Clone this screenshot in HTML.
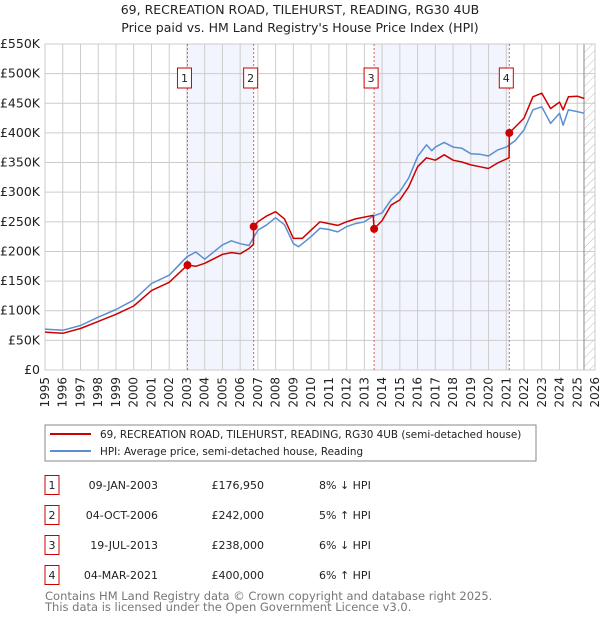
<!DOCTYPE html>
<html><head><meta charset="utf-8"><style>
body{margin:0;background:#fff;font-family:"Liberation Sans","DejaVu Sans",sans-serif;}
svg text{font-family:"DejaVu Sans","Liberation Sans",sans-serif;}
</style></head><body>
<svg id="c" width="600" height="620" xmlns="http://www.w3.org/2000/svg">
<defs><pattern id="hatch" width="6" height="6" patternUnits="userSpaceOnUse" patternTransform="rotate(45)"><line x1="0" y1="0" x2="0" y2="6" stroke="#bbb" stroke-width="1"/></pattern></defs>
<text x="300" y="14" text-anchor="middle" font-size="12.5" fill="#222">69, RECREATION ROAD, TILEHURST, READING, RG30 4UB</text>
<text x="300" y="32" text-anchor="middle" font-size="12.5" fill="#222">Price paid vs. HM Land Registry's House Price Index (HPI)</text>
<g id="plot"></g>
<g>
<rect x="45" y="425" width="491" height="36" fill="#fff" stroke="#888"/>
<line x1="50" y1="434" x2="91" y2="434" stroke="#cc0000" stroke-width="2"/>
<text x="100" y="438" font-size="10.4" fill="#222">69, RECREATION ROAD, TILEHURST, READING, RG30 4UB (semi-detached house)</text>
<line x1="50" y1="451" x2="91" y2="451" stroke="#5b8fd0" stroke-width="2"/>
<text x="100" y="455" font-size="10.4" fill="#222">HPI: Average price, semi-detached house, Reading</text>
</g>
<g id="table"></g>
<text x="45" y="600" font-size="11.5" fill="#777">Contains HM Land Registry data © Crown copyright and database right 2025.</text>
<text x="45" y="611" font-size="11.5" fill="#777">This data is licensed under the Open Government Licence v3.0.</text>
</svg>
<script>
const hpiYears=[1995,1996,1997,1998,1999,2000,2001,2002,2003,2003.5,2004,2005,2005.5,2006,2006.5,2007,2007.5,2008,2008.5,2009,2009.3,2010,2010.5,2011,2011.5,2012,2012.5,2013,2013.5,2014,2014.5,2015,2015.5,2016,2016.5,2016.8,2017,2017.5,2018,2018.5,2019,2019.5,2020,2020.5,2021,2021.5,2022,2022.5,2023,2023.5,2024,2024.2,2024.5,2025,2025.4];
const hpiValues=[69000,67000,75000,89000,102000,118000,146000,160000,191000,199000,187000,211000,218000,213000,210000,236000,245000,257000,245000,213000,208000,225000,239000,237000,233000,242000,247000,250000,260000,265000,287000,301000,324000,360000,380000,370000,376000,384000,376000,374000,365000,364000,361000,371000,376000,387000,405000,439000,444000,416000,433000,413000,439000,436000,433000];
const propYears=[1995,1996,1997,1998,1999,2000,2001,2002,2003.03,2003.5,2004,2005,2005.5,2006,2006.5,2006.75,2006.76,2007,2007.5,2008,2008.5,2009,2009.5,2010,2010.5,2011,2011.5,2012,2012.5,2013,2013.5,2013.55,2014,2014.5,2015,2015.5,2016,2016.5,2017,2017.5,2018,2018.5,2019,2019.5,2020,2020.5,2021.16,2021.17,2021.5,2022,2022.5,2023,2023.5,2024,2024.2,2024.5,2025,2025.4];
const propValues=[64000,62000,70000,82000,94000,108000,134000,148000,176950,175000,180000,195000,198000,196000,205000,212000,242000,250000,260000,267000,255000,222000,222000,236000,250000,247000,244000,250000,255000,258000,261000,238000,252000,278000,287000,309000,343000,358000,354000,363000,354000,351000,346000,343000,340000,349000,358000,400000,410000,425000,461000,467000,441000,452000,439000,461000,462000,458000];
const saleLabels=["1","2","3","4"];
const saleYears=[2003.03,2006.76,2013.55,2021.17];
const salePrices=[176950,242000,238000,400000];
const saleDates=["09-JAN-2003","04-OCT-2006","19-JUL-2013","04-MAR-2021"];
const salePriceText=["£176,950","£242,000","£238,000","£400,000"];
const saleHpiText=["8% ↓ HPI","5% ↑ HPI","6% ↓ HPI","6% ↑ HPI"];
const yTicks=[0,50000,100000,150000,200000,250000,300000,350000,400000,450000,500000,550000];
const yTickLabels=["£0","£50K","£100K","£150K","£200K","£250K","£300K","£350K","£400K","£450K","£500K","£550K"];
const xTicks=[1995,1996,1997,1998,1999,2000,2001,2002,2003,2004,2005,2006,2007,2008,2009,2010,2011,2012,2013,2014,2015,2016,2017,2018,2019,2020,2021,2022,2023,2024,2025,2026];
const dataEnd=2025.38;

const NS="http://www.w3.org/2000/svg";
const L=45,R=595,T=44,B=370,X0=1995,X1=2026,YMAX=550000;
const xs=v=>L+(v-X0)/(X1-X0)*(R-L);
const ys=v=>B-v/YMAX*(B-T);
function mk(tag,attrs,parent){const e=document.createElementNS(NS,tag);for(const k in attrs)e.setAttribute(k,attrs[k]);parent.appendChild(e);return e;}
const g=document.getElementById('plot');
for(let i=0;i<saleYears.length;i+=2){
 const b=mk('rect',{x:xs(saleYears[i]),y:T,width:xs(saleYears[i+1])-xs(saleYears[i]),height:B-T,fill:'#f2f5fd'},g);
 
 
}
const h=mk('rect',{x:xs(dataEnd),y:T,width:R-xs(dataEnd),height:B-T,fill:'url(#hatch)'},g);


yTicks.forEach((v,i)=>{
 const l=mk('line',{x1:L,x2:R,y1:ys(v),y2:ys(v),stroke:'#cccccc','stroke-width':1},g);
 
 
 const t=mk('text',{x:40,y:ys(v)+4,'text-anchor':'end','font-size':12.5,fill:'#222'},g);
 t.textContent=yTickLabels[i];
 
 
});
xTicks.forEach(v=>{
 const l=mk('line',{x1:xs(v),x2:xs(v),y1:T,y2:B,stroke:'#cccccc','stroke-width':1},g);
 
 
 const t=mk('text',{x:0,y:0,'text-anchor':'end','font-size':12,fill:'#222',transform:`translate(${xs(v)+4},377) rotate(-90)`},g);
 t.textContent=v;
 
 
});
const dl=mk('line',{x1:xs(dataEnd),x2:xs(dataEnd),y1:T,y2:B,stroke:'#888','stroke-width':1},g);


const fr=mk('rect',{x:L,y:T,width:R-L,height:B-T,fill:'none',stroke:'#cccccc'},g);


saleYears.forEach((v,i)=>{
 const l=mk('line',{x1:xs(v),x2:xs(v),y1:T,y2:B,stroke:'#e06060','stroke-width':1,'stroke-dasharray':'2,2'},g);
 
 
 const r=mk('rect',{x:xs(v)-10,y:68,width:14,height:20,fill:'#fff',stroke:'#cc0000'},g);
 
 
 const t=mk('text',{x:xs(v)-3,y:82,'text-anchor':'middle','font-size':11,fill:'#222'},g);
 t.textContent=saleLabels[i];
 
 
});
function path(xa,va){return xa.map((x,i)=>(i?'L':'M')+xs(x).toFixed(1)+','+ys(va[i]).toFixed(1)).join('');}
const hp=mk('path',{d:path(hpiYears,hpiValues),fill:'none',stroke:'#5b8fd0','stroke-width':1.5,'stroke-linejoin':'round'},g);


const pp=mk('path',{d:path(propYears,propValues),fill:'none',stroke:'#cc0000','stroke-width':1.5,'stroke-linejoin':'round'},g);


saleYears.forEach((v,i)=>{
 const c=mk('circle',{cx:xs(v),cy:ys(salePrices[i]),r:4,fill:'#cc0000'},g);
 
 
});
const tb=document.getElementById('table');
saleLabels.forEach((s,i)=>{
 const cy=485+i*30;
 const r=mk('rect',{x:45,y:cy-9.5,width:14,height:19,fill:'#fff',stroke:'#cc0000'},tb);
 
 
 const cells=[[52,'middle',s],[158,'end',saleDates[i]],[264,'end',salePriceText[i]],[319,'start',saleHpiText[i]]];
 cells.forEach(([x,a,txt],j)=>{
  const t=mk('text',{x:x,y:cy+4,'text-anchor':a,'font-size':11,fill:'#222'},tb);
  t.textContent=txt;
  
  
 });
});
</script>
</body></html>
